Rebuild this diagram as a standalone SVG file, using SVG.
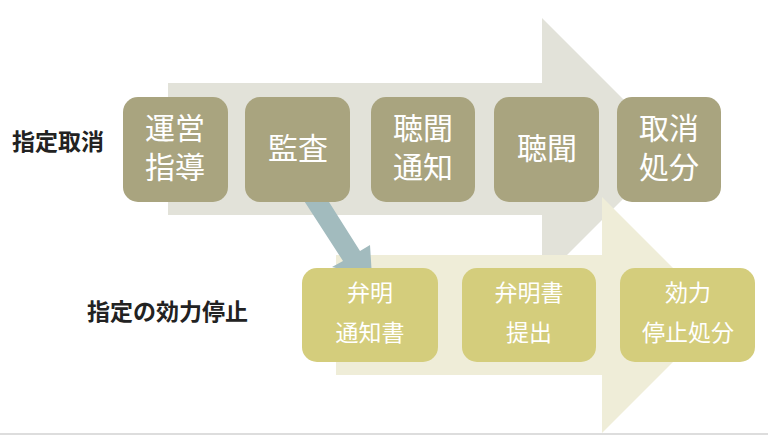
<svg xmlns="http://www.w3.org/2000/svg" width="768" height="437" viewBox="0 0 768 437">
<style>
.n1{fill:#a9a47f}.n2{fill:#d4cd7c}
.t{font-family:"Noto Sans CJK JP",sans-serif;fill:#fff;text-anchor:middle}
.b{font-size:30px}.s{font-size:23px}
.l{font-family:"Noto Sans CJK JP",sans-serif;fill:#222;font-size:23px;font-weight:bold}
</style>
<rect width="768" height="437" fill="#fff"/>
<line x1="0" y1="434" x2="768" y2="434" stroke="#ddd" stroke-width="2"/>
<g id="connectors">
<polygon points="168,83 542,83 542,18 673,149 542,280 542,215 168,215" fill="#e2e2d9"/>
<polygon points="336,255 602,255 602,197 720,315 602,433 602,375 336,375" fill="#efedd8"/>
<polygon points="299,193 317,183 360,251 370,245 372,277 332,267 343,261" fill="#a2bbbe"/>
</g>
<text class="l" x="12" y="150">指定取消</text>
<text class="l" x="87" y="320">指定の効力停止</text>
<g id="n1"><rect class="n1" x="123" y="97" width="105" height="105" rx="15"/><text class="t b" x="175" y="139">運営</text><text class="t b" x="175" y="178">指導</text></g>
<g id="n2"><rect class="n1" x="245" y="97" width="105" height="105" rx="15"/><text class="t b" x="298" y="159">監査</text></g>
<g id="n3"><rect class="n1" x="371" y="97" width="104" height="105" rx="15"/><text class="t b" x="423" y="139">聴聞</text><text class="t b" x="423" y="178">通知</text></g>
<g id="n4"><rect class="n1" x="494" y="97" width="105" height="105" rx="15"/><text class="t b" x="547" y="159">聴聞</text></g>
<g id="n5"><rect class="n1" x="617" y="97" width="104" height="105" rx="15"/><text class="t b" x="669" y="139">取消</text><text class="t b" x="669" y="178">処分</text></g>
<g id="m1"><rect class="n2" x="302" y="268" width="136" height="94" rx="15"/><text class="t s" x="370" y="301">弁明</text><text class="t s" x="370" y="341">通知書</text></g>
<g id="m2"><rect class="n2" x="462" y="268" width="134" height="94" rx="15"/><text class="t s" x="529" y="301">弁明書</text><text class="t s" x="529" y="341">提出</text></g>
<g id="m3"><rect class="n2" x="620" y="268" width="135" height="94" rx="15"/><text class="t s" x="688" y="301">効力</text><text class="t s" x="688" y="341">停止処分</text></g>
</svg>
